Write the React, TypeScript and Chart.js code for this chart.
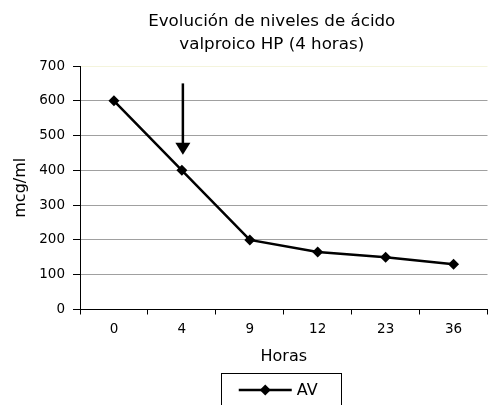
import React, { useEffect, useRef } from "react";
import { Chart, registerables } from "chart.js";

Chart.register(...registerables);

const titleLines = ["Evolución de niveles de ácido", "valproico HP (4 horas)"];
const categories = ["0", "4", "9", "12", "23", "36"];
const seriesLabel = "AV";
const seriesValues = [600, 400, 200, 165, 150, 130];
const yTicks = [0, 100, 200, 300, 400, 500, 600, 700];
const xTitle = "Horas";
const yTitle = "mcg/ml";
// arrow annotation: category, start value, tip value
const arrowCategory = "4";
const arrowValues = [650, 445];

const FONT = "'DejaVu Sans', Verdana, sans-serif";

const titlePlugin = {
  id: "customTitle",
  afterDraw(chart: any) {
    const { ctx, chartArea } = chart;
    ctx.save();
    ctx.fillStyle = "#000";
    ctx.font = `16.7px ${FONT}`;
    ctx.textAlign = "center";
    ctx.textBaseline = "middle";
    const cx = (chartArea.left + chartArea.right) / 2 - 12;
    titleLines.forEach((t, i) => ctx.fillText(t, cx, 22 + i * 23));
    ctx.restore();
  },
};

const arrowPlugin = {
  id: "arrow",
  afterDatasetsDraw(chart: any) {
    const { ctx, scales } = chart;
    const x = scales.x.getPixelForValue(categories.indexOf(arrowCategory)) + 1;
    const y1 = scales.y.getPixelForValue(arrowValues[0]);
    const y2 = scales.y.getPixelForValue(arrowValues[1]);
    const headH = 12;
    const headW = 15;
    ctx.save();
    ctx.strokeStyle = "#000";
    ctx.fillStyle = "#000";
    ctx.lineWidth = 2.5;
    ctx.beginPath();
    ctx.moveTo(x, y1);
    ctx.lineTo(x, y2 - headH + 1);
    ctx.stroke();
    ctx.beginPath();
    ctx.moveTo(x - headW / 2, y2 - headH);
    ctx.lineTo(x + headW / 2, y2 - headH);
    ctx.lineTo(x, y2);
    ctx.closePath();
    ctx.fill();
    ctx.restore();
  },
};

const legendPlugin = {
  id: "boxLegend",
  afterDraw(chart: any) {
    const { ctx, chartArea } = chart;
    const boxW = 120;
    const cx = (chartArea.left + chartArea.right) / 2 - 3;
    const left = cx - boxW / 2;
    const top = chart.height - 32;
    ctx.save();
    ctx.strokeStyle = "#000";
    ctx.lineWidth = 1;
    ctx.strokeRect(Math.round(left) + 0.5, Math.round(top) + 0.5, boxW, 60);
    const ly = top + 17;
    ctx.lineWidth = 2.5;
    ctx.beginPath();
    ctx.moveTo(left + 18, ly);
    ctx.lineTo(left + 71, ly);
    ctx.stroke();
    const mx = left + 44.5;
    const r = 5.5;
    ctx.fillStyle = "#000";
    ctx.beginPath();
    ctx.moveTo(mx, ly - r);
    ctx.lineTo(mx + r, ly);
    ctx.lineTo(mx, ly + r);
    ctx.lineTo(mx - r, ly);
    ctx.closePath();
    ctx.fill();
    ctx.font = `16px ${FONT}`;
    ctx.textAlign = "left";
    ctx.textBaseline = "middle";
    ctx.fillText(seriesLabel, left + 76, ly + 1);
    ctx.restore();
  },
};

export default function App() {
  const ref = useRef<HTMLCanvasElement>(null);
  useEffect(() => {
    if (!ref.current) return;
    const chart = new Chart(ref.current, {
      type: "line",
      data: {
        labels: categories,
        datasets: [
          {
            label: seriesLabel,
            data: seriesValues,
            borderColor: "#000",
            backgroundColor: "#000",
            borderWidth: 2.5,
            pointStyle: "rectRot",
            pointRadius: 5.5,
            pointBackgroundColor: "#000",
            pointBorderColor: "#000",
            pointBorderWidth: 0,
            tension: 0,
          },
        ],
      },
      plugins: [titlePlugin, arrowPlugin, legendPlugin],
      options: {
        animation: false,
        responsive: false,
        devicePixelRatio: 1,
        layout: { padding: { top: 66, left: 0, right: 1, bottom: 35 } },
        plugins: {
          legend: { display: false },
          title: { display: false },
          tooltip: { enabled: false },
        },
        scales: {
          x: {
            type: "category",
            offset: true,
            afterFit(scale: any) {
              scale.height = 60.5;
            },
            grid: {
              offset: true,
              drawOnChartArea: false,
              drawTicks: true,
              tickLength: 5,
              tickColor: "#000",
              lineWidth: 1,
            },
            border: { color: "#000", width: 1 },
            ticks: {
              color: "#000",
              font: { family: FONT, size: 13.5 },
              padding: 7,
              maxRotation: 0,
            },
            title: {
              display: true,
              text: xTitle,
              color: "#000",
              font: { family: FONT, size: 16 },
              padding: { top: 9, bottom: 4 },
            },
          },
          y: {
            min: 0,
            max: 700,
            afterBuildTicks(scale: any) {
              scale.ticks = yTicks.map((v) => ({ value: v }));
            },
            afterFit(scale: any) {
              scale.width = 80;
            },
            grid: {
              color: (c: any) => (c.tick && c.tick.value === 700 ? "#f4f4dc" : c.tick && c.tick.value === 0 ? "#000" : "#a0a0a0"),
              tickColor: "#000",
              tickLength: 7,
              lineWidth: 1,
            },
            border: { color: "#000", width: 1 },
            ticks: {
              color: "#000",
              font: { family: FONT, size: 13.5 },
              padding: 8,
            },
            title: {
              display: true,
              text: yTitle,
              color: "#000",
              font: { family: FONT, size: 16 },
              padding: { top: 11, bottom: 4 },
            },
          },
        },
      },
    });
    return () => chart.destroy();
  }, []);
  return (
    <div style={{ position: "fixed", left: 0, top: 0, width: 493, height: 405, background: "#fff" }}>
      <canvas ref={ref} width={493} height={405} />
    </div>
  );
}
